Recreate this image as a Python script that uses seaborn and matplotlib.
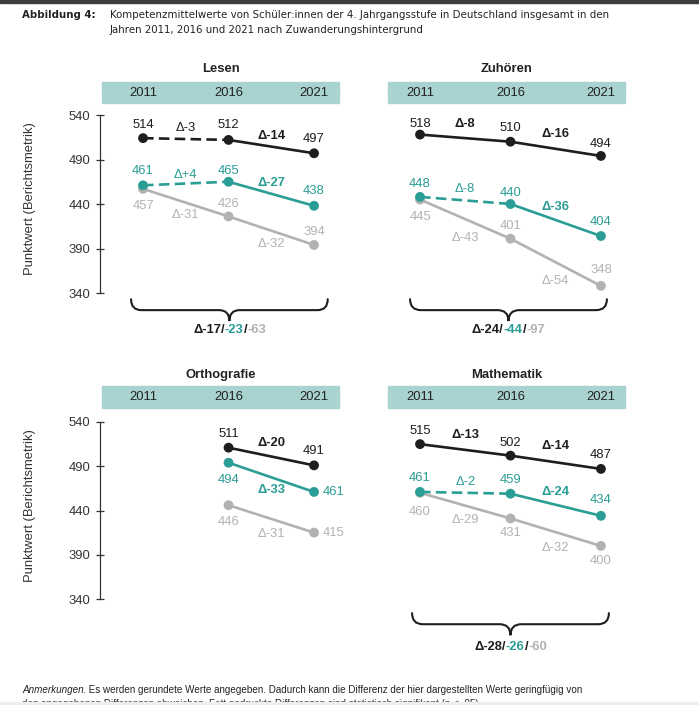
import matplotlib
matplotlib.use("Agg")
import matplotlib.pyplot as plt
import seaborn as sns
import pandas as pd
from matplotlib.patches import Rectangle, PathPatch
from matplotlib.path import Path
from matplotlib.offsetbox import TextArea, HPacker, AnnotationBbox
from matplotlib import font_manager

# ---- data -------------------------------------------------------------
years = [2011, 2016, 2021]
gruppen = ["ohne Zuwanderungshintergrund", "zweite Generation", "erste Generation"]

lesen_ohne = [514, 512, 497]
lesen_zweite = [461, 465, 438]
lesen_erste = [457, 426, 394]
lesen_delta_ohne = [-3, -14]
lesen_delta_zweite = [4, -27]
lesen_delta_erste = [-31, -32]
lesen_sig_ohne = [False, True]
lesen_sig_zweite = [False, True]
lesen_sig_erste = [False, False]
lesen_gesamt = [-17, -23, -63]

zuhoeren_ohne = [518, 510, 494]
zuhoeren_zweite = [448, 440, 404]
zuhoeren_erste = [445, 401, 348]
zuhoeren_delta_ohne = [-8, -16]
zuhoeren_delta_zweite = [-8, -36]
zuhoeren_delta_erste = [-43, -54]
zuhoeren_sig_ohne = [True, True]
zuhoeren_sig_zweite = [False, True]
zuhoeren_sig_erste = [False, False]
zuhoeren_gesamt = [-24, -44, -97]

ortho_ohne = [None, 511, 491]
ortho_zweite = [None, 494, 461]
ortho_erste = [None, 446, 415]
ortho_delta_ohne = [None, -20]
ortho_delta_zweite = [None, -33]
ortho_delta_erste = [None, -31]
ortho_sig_ohne = [False, True]
ortho_sig_zweite = [False, True]
ortho_sig_erste = [False, False]

mathe_ohne = [515, 502, 487]
mathe_zweite = [461, 459, 434]
mathe_erste = [460, 431, 400]
mathe_delta_ohne = [-13, -14]
mathe_delta_zweite = [-2, -24]
mathe_delta_erste = [-29, -32]
mathe_sig_ohne = [True, True]
mathe_sig_zweite = [False, True]
mathe_sig_erste = [False, False]
mathe_gesamt = [-28, -26, -60]

# trend segments that are not significant -> dashed
lesen_dashed = {gruppen[0]: [True, False], gruppen[1]: [True, False], gruppen[2]: [False, False]}
zuhoeren_dashed = {gruppen[0]: [False, False], gruppen[1]: [True, False], gruppen[2]: [False, False]}
ortho_dashed = {g: [False, False] for g in gruppen}
mathe_dashed = {gruppen[0]: [False, False], gruppen[1]: [True, False], gruppen[2]: [False, False]}

# ---- styling ----------------------------------------------------------
sns.set_theme(style="white")
plt.rcParams['font.family'] = ['Liberation Sans', 'DejaVu Sans']

BLACK = "#1e1e1e"
TEAL = "#2a9d95"
GREY = "#b2b2b2"
BAND = "#a8d3d0"
FS = 9.4
palette = {gruppen[0]: BLACK, gruppen[1]: TEAL, gruppen[2]: GREY}
hue_order = [gruppen[2], gruppen[1], gruppen[0]]

W, H = 699, 705


def rect(left, top, right, bottom):
    return [left / W, 1 - bottom / H, (right - left) / W, (bottom - top) / H]


panels = [
    dict(title="Lesen",
         values={gruppen[0]: lesen_ohne, gruppen[1]: lesen_zweite, gruppen[2]: lesen_erste},
         deltas={gruppen[0]: lesen_delta_ohne, gruppen[1]: lesen_delta_zweite, gruppen[2]: lesen_delta_erste},
         sig={gruppen[0]: lesen_sig_ohne, gruppen[1]: lesen_sig_zweite, gruppen[2]: lesen_sig_erste},
         dashed=lesen_dashed, gesamt=lesen_gesamt),
    dict(title="Zuhören",
         values={gruppen[0]: zuhoeren_ohne, gruppen[1]: zuhoeren_zweite, gruppen[2]: zuhoeren_erste},
         deltas={gruppen[0]: zuhoeren_delta_ohne, gruppen[1]: zuhoeren_delta_zweite, gruppen[2]: zuhoeren_delta_erste},
         sig={gruppen[0]: zuhoeren_sig_ohne, gruppen[1]: zuhoeren_sig_zweite, gruppen[2]: zuhoeren_sig_erste},
         dashed=zuhoeren_dashed, gesamt=zuhoeren_gesamt),
    dict(title="Orthografie",
         values={gruppen[0]: ortho_ohne, gruppen[1]: ortho_zweite, gruppen[2]: ortho_erste},
         deltas={gruppen[0]: ortho_delta_ohne, gruppen[1]: ortho_delta_zweite, gruppen[2]: ortho_delta_erste},
         sig={gruppen[0]: ortho_sig_ohne, gruppen[1]: ortho_sig_zweite, gruppen[2]: ortho_sig_erste},
         dashed=ortho_dashed, gesamt=None),
    dict(title="Mathematik",
         values={gruppen[0]: mathe_ohne, gruppen[1]: mathe_zweite, gruppen[2]: mathe_erste},
         deltas={gruppen[0]: mathe_delta_ohne, gruppen[1]: mathe_delta_zweite, gruppen[2]: mathe_delta_erste},
         sig={gruppen[0]: mathe_sig_ohne, gruppen[1]: mathe_sig_zweite, gruppen[2]: mathe_sig_erste},
         dashed=mathe_dashed, gesamt=mathe_gesamt),
]

# layout (pixels), label offsets (pixels, + = up, "r" = right of point)
layout = [
    dict(px=(102, 115, 339, 293), xlim=(2008.6, 2022.46), yaxis=True, band=(82, 103), title_y=69,
         vlab={gruppen[0]: [13, 15, 14], gruppen[1]: [14, 11, 15], gruppen[2]: [-17, 12, 13]},
         dlab={gruppen[0]: [11, 11], gruppen[1]: [9, 11], gruppen[2]: [-12, -13]},
         brace=(2010.3, 2021.8, 333, 308.5, 298)),
    dict(px=(388, 115, 625, 293), xlim=(2009.23, 2022.33), yaxis=False, band=(82, 103), title_y=69,
         vlab={gruppen[0]: [11, 14, 12], gruppen[1]: [13, 11, 14], gruppen[2]: [-17, 13, 16]},
         dlab={gruppen[0]: [14, 15], gruppen[1]: [11, 13], gruppen[2]: [-19, -19]},
         brace=(2010.45, 2021.33, 333, 308.5, 298)),
    dict(px=(102, 422, 339, 599), xlim=(2008.6, 2022.46), yaxis=True, band=(386, 408), title_y=375,
         vlab={gruppen[0]: [0, 14, 14], gruppen[1]: [0, -17, "r"], gruppen[2]: [0, -17, "r"]},
         dlab={gruppen[0]: [0, 14], gruppen[1]: [0, -13], gruppen[2]: [0, -15]},
         brace=None),
    dict(px=(388, 422, 625, 599), xlim=(2009.23, 2022.33), yaxis=False, band=(386, 408), title_y=375,
         vlab={gruppen[0]: [13, 13, 14], gruppen[1]: [14, 14, 16], gruppen[2]: [-19, -15, -15]},
         dlab={gruppen[0]: [15, 16], gruppen[1]: [11, 13], gruppen[2]: [-14, -16]},
         brace=(2010.56, 2021.44, 324, 299, 285.5)),
]


def draw_brace(ax, x0, x1, ytop, ytip, q=0.6):
    xm = (x0 + x1) / 2
    ym = (ytop + ytip) / 2
    verts = [(x0, ytop), (x0, ym), (x0 + q, ym), (xm - q, ym), (xm, ym), (xm, ytip),
             (xm, ym), (xm + q, ym), (x1 - q, ym), (x1, ym), (x1, ytop)]
    codes = [Path.MOVETO, Path.CURVE3, Path.CURVE3, Path.LINETO, Path.CURVE3, Path.CURVE3,
             Path.CURVE3, Path.CURVE3, Path.LINETO, Path.CURVE3, Path.CURVE3]
    ax.add_patch(PathPatch(Path(verts, codes), fill=False, lw=1.5, ec=BLACK,
                           clip_on=False, capstyle='round'))


# condensed face for the caption if one is installed
names = {f.name for f in font_manager.fontManager.ttflist}
cond = [f for f in font_manager.fontManager.ttflist
        if f.name == "DejaVu Sans" and "ondensed" in str(f.stretch) + f.fname]
if "Liberation Sans Narrow" in names:
    head_font = dict(family=["Liberation Sans Narrow"], fontsize=9.2)
elif cond:
    head_font = dict(family=["DejaVu Sans"], stretch="condensed", fontsize=8.2)
else:
    head_font = dict(family=["Liberation Sans"], fontsize=8.3)

fig = plt.figure(figsize=(W / 100, H / 100), dpi=100)
fig.patch.set_facecolor("white")

# page decorations
fig.patches.append(Rectangle((0, 1 - 3 / H), 1, 3 / H, transform=fig.transFigure,
                             color="#3d3d3d", zorder=10))
fig.patches.append(Rectangle((0, 0), 1, 3 / H, transform=fig.transFigure,
                             color="#eaf1eb", zorder=10))

fig.text(22 / W, 1 - 15 / H, "Abbildung 4:", fontweight="bold",
         va="center", color="#222222", **head_font)
fig.text(110 / W, 1 - 15 / H,
         "Kompetenzmittelwerte von Schüler:innen der 4. Jahrgangsstufe in Deutschland insgesamt in den",
         va="center", color="#222222", **head_font)
fig.text(110 / W, 1 - 30 / H, "Jahren 2011, 2016 und 2021 nach Zuwanderungshintergrund",
         va="center", color="#222222", **head_font)

for panel, lay in zip(panels, layout):
    left, top, right, bottom = lay["px"]
    ax = fig.add_axes(rect(left, top, right, bottom))
    ax.set_facecolor("none")

    # band with years
    b0, b1 = lay["band"]
    fig.patches.append(Rectangle((left / W, 1 - b1 / H), (right - left) / W, (b1 - b0) / H,
                                 transform=fig.transFigure, color=BAND, zorder=-1))
    band_mid = top - (b0 + b1) / 2
    for yr in years:
        ax.annotate(str(yr), xy=(yr, 1), xycoords=("data", "axes fraction"),
                    xytext=(0, band_mid), textcoords="offset pixels",
                    ha="center", va="center", fontsize=FS, color="#222222",
                    annotation_clip=False)
    ax.annotate(panel["title"], xy=(0.5, 1), xycoords="axes fraction",
                xytext=(0, top - lay["title_y"]), textcoords="offset pixels",
                ha="center", va="center", fontsize=FS, fontweight="bold", color="#222222")

    # line segments
    rows = []
    for g in gruppen:
        vals = panel["values"][g]
        for i in range(len(years) - 1):
            if vals[i] is None or vals[i + 1] is None:
                continue
            strich = "gestrichelt" if panel["dashed"][g][i] else "durchgezogen"
            for j in (i, i + 1):
                rows.append(dict(Jahr=years[j], Wert=vals[j], Gruppe=g, Strich=strich,
                                 Segment=f"{g}-{i}"))
    seg = pd.DataFrame(rows)
    sns.lineplot(data=seg, x="Jahr", y="Wert", hue="Gruppe", style="Strich", units="Segment",
                 estimator=None, hue_order=hue_order, palette=palette,
                 dashes={"durchgezogen": "", "gestrichelt": (4, 2)},
                 linewidth=1.9, legend=False, ax=ax, zorder=2)

    pts = pd.DataFrame([dict(Jahr=y, Wert=v, Gruppe=g)
                        for g in gruppen for y, v in zip(years, panel["values"][g]) if v is not None])
    pts["Gruppe"] = pd.Categorical(pts["Gruppe"], categories=hue_order, ordered=True)
    pts = pts.sort_values("Gruppe")
    sns.scatterplot(data=pts, x="Jahr", y="Wert", hue="Gruppe", hue_order=hue_order,
                    palette=palette, s=50, edgecolor="none", legend=False, ax=ax,
                    zorder=3, clip_on=False)

    # value labels
    for g in gruppen:
        vals = panel["values"][g]
        for i, (yr, v) in enumerate(zip(years, vals)):
            if v is None:
                continue
            off = lay["vlab"][g][i]
            if off == "r":
                ax.annotate(str(v), (yr, v), xytext=(9, 0), textcoords="offset pixels",
                            ha="left", va="center", fontsize=FS, color=palette[g])
            else:
                ax.annotate(str(v), (yr, v), xytext=(0, off), textcoords="offset pixels",
                            ha="center", va="center", fontsize=FS, color=palette[g])
        # delta labels
        for i, d in enumerate(panel["deltas"][g]):
            if d is None:
                continue
            xm = (years[i] + years[i + 1]) / 2
            ym = (vals[i] + vals[i + 1]) / 2
            ax.annotate(f"\u0394{d:+d}", (xm, ym), xytext=(0, lay["dlab"][g][i]),
                        textcoords="offset pixels", ha="center", va="center", fontsize=FS,
                        color=palette[g],
                        fontweight="bold" if panel["sig"][g][i] else "normal")

    # axes
    ax.set_xlim(*lay["xlim"])
    ax.set_ylim(340, 540)
    ax.set_xticks([])
    ax.set_xlabel("")
    for s in ["top", "right", "bottom"]:
        ax.spines[s].set_visible(False)
    if lay["yaxis"]:
        ax.spines["left"].set_position(("outward", 1.5))
        ax.spines["left"].set_color("#333333")
        ax.spines["left"].set_linewidth(0.9)
        ax.set_yticks([340, 390, 440, 490, 540])
        ax.tick_params(axis="y", direction="inout", length=6, width=0.9, color="#333333",
                       labelsize=FS, labelcolor="#333333", pad=4, left=True)
        ax.set_ylabel("Punktwert (Berichtsmetrik)", fontsize=FS, color="#333333")
        ax.yaxis.set_label_coords(-0.28, 0.53)
    else:
        ax.spines["left"].set_visible(False)
        ax.set_yticks([])
        ax.set_ylabel("")

    # overall change with brace
    if lay["brace"] is not None:
        x0, x1, ytop, ytip, ylab = lay["brace"]
        draw_brace(ax, x0, x1, ytop, ytip)
        tot = panel["gesamt"]
        pieces = [(f"\u0394{tot[0]}/", BLACK, "bold"), (f"{tot[1]}", TEAL, "bold"),
                  ("/", BLACK, "bold"), (f"{tot[2]}", GREY, "bold")]
        box = HPacker(children=[TextArea(t, textprops=dict(color=c, fontweight=w, fontsize=FS))
                                for t, c, w in pieces], sep=0, pad=0, align="baseline")
        ab = AnnotationBbox(box, ((x0 + x1) / 2, ylab), xycoords="data", frameon=False,
                            box_alignment=(0.5, 0.5), annotation_clip=False, pad=0)
        ax.add_artist(ab)

# footnote
FN = 7.1
renderer = fig.canvas.get_renderer()
t1 = fig.text(22 / W, 1 - 690 / H, "Anmerkungen.", style="italic", fontsize=FN,
              va="center", color="#222222")
w1 = t1.get_window_extent(renderer).width
fig.text((22 + w1) / W, 1 - 690 / H,
         " Es werden gerundete Werte angegeben. Dadurch kann die Differenz der hier dargestellten Werte geringfügig von",
         fontsize=FN, va="center", color="#222222")
fig.text(22 / W, 1 - 704 / H,
         "den angegebenen Differenzen abweichen. Fett gedruckte Differenzen sind statistisch signifikant (p < .05).",
         fontsize=FN, va="center", color="#222222")

fig.savefig("out.png", dpi=100)
